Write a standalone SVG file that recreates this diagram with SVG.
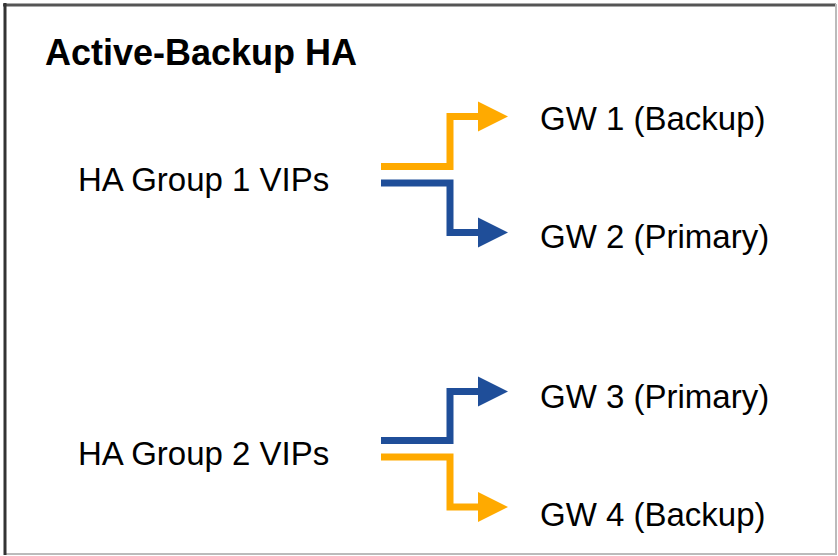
<svg xmlns="http://www.w3.org/2000/svg" width="838" height="556" viewBox="0 0 838 556">
<style>
.lbl{font-family:"Liberation Sans",Arial,sans-serif;font-size:33px;fill:#000}
.ttl{font-family:"Liberation Sans",Arial,sans-serif;font-size:36px;font-weight:bold;fill:#000}
.or{fill:none;stroke:#FFAA00;stroke-width:7;stroke-linejoin:miter}
.bl{fill:none;stroke:#1F4E99;stroke-width:7;stroke-linejoin:miter}
</style>
<defs>
<marker id="hOr" markerUnits="userSpaceOnUse" markerWidth="31" markerHeight="31" viewBox="0 0 31 31" refX="0" refY="15.5" orient="auto"><polygon points="0,0.5 30,15.5 0,30.5" fill="#FFAA00"/></marker>
<marker id="hBl" markerUnits="userSpaceOnUse" markerWidth="31" markerHeight="31" viewBox="0 0 31 31" refX="0" refY="15.5" orient="auto"><polygon points="0,0.5 30,15.5 0,30.5" fill="#1F4E99"/></marker>
</defs>
<rect width="838" height="556" fill="#fff"/>
<g id="frame">
<line x1="3" y1="5" x2="836" y2="5" stroke="#555" stroke-width="3"/>
<line x1="836" y1="4" x2="836" y2="555" stroke="#bbb" stroke-width="2"/>
<line x1="4" y1="554" x2="836" y2="554" stroke="#bbb" stroke-width="2"/>
<line x1="5" y1="3" x2="5" y2="555" stroke="#333" stroke-width="3"/>
</g>
<g id="title"><text class="ttl" x="45" y="65">Active-Backup HA</text></g>
<g id="group1"><text class="lbl" x="78" y="191">HA Group 1 VIPs</text></g>
<g id="group2"><text class="lbl" x="78" y="465">HA Group 2 VIPs</text></g>
<g id="gw1"><text class="lbl" x="540" y="130">GW 1 (Backup)</text></g>
<g id="gw2"><text class="lbl" x="540" y="248">GW 2 (Primary)</text></g>
<g id="gw3"><text class="lbl" x="540" y="408">GW 3 (Primary)</text></g>
<g id="gw4"><text class="lbl" x="540" y="526">GW 4 (Backup)</text></g>
<g id="connectors">
<path class="or" d="M381,166.5 H450 V116.5 H478" marker-end="url(#hOr)"/>
<path class="bl" d="M381,183 H450 V232.5 H478" marker-end="url(#hBl)"/>
<path class="bl" d="M381,440.5 H450 V391.5 H478" marker-end="url(#hBl)"/>
<path class="or" d="M381,457 H450 V507 H478" marker-end="url(#hOr)"/>
</g>
</svg>
